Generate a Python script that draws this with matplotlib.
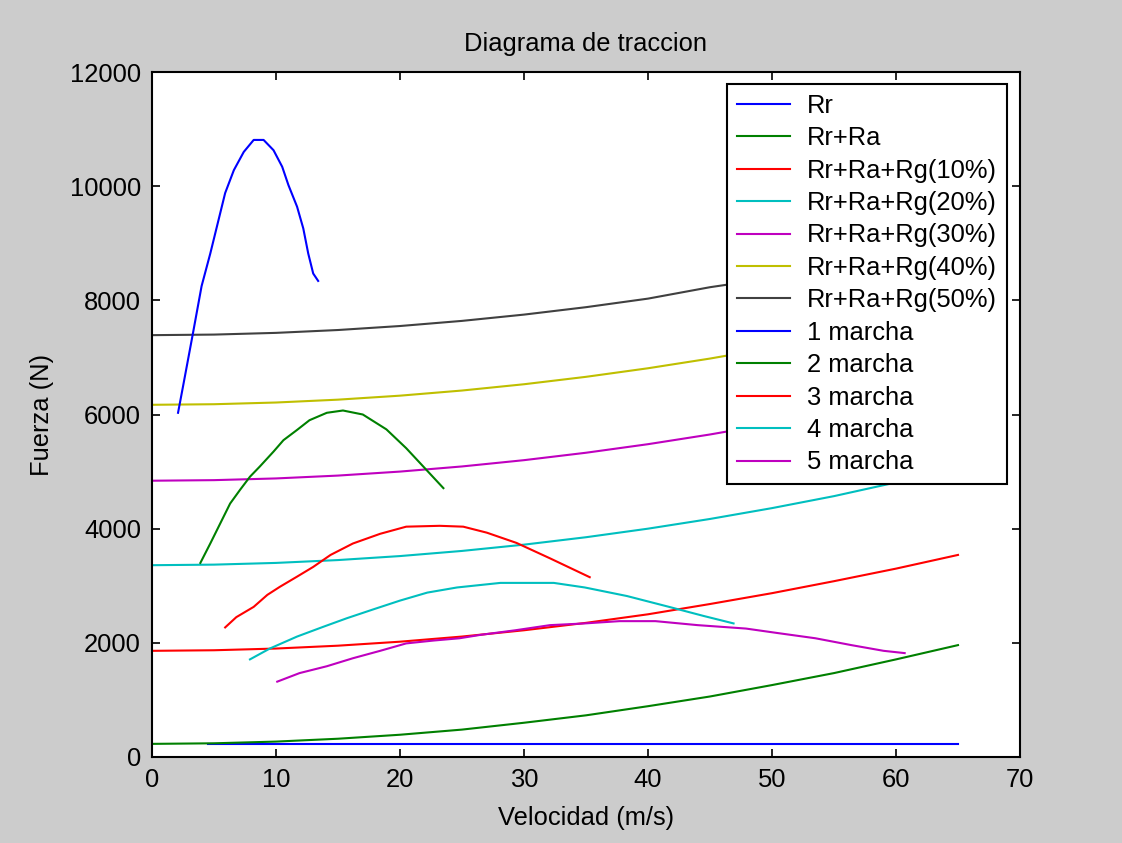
import matplotlib.pyplot as plt

plt.rcParams['font.family'] = ['Liberation Sans', 'DejaVu Sans']

# resistencias (N) frente a velocidad (m/s)
v_res = [0, 5, 10, 15, 20, 25, 30, 35, 40, 45, 50, 55, 60, 65]
rr_v = [4.5, 65]
rr_f = [230, 230]
rr_ra = [230, 240, 270, 320, 390, 480, 600, 730, 890, 1060, 1260, 1470, 1710, 1960]
rg10 = [1860, 1870, 1900, 1950, 2020, 2110, 2220, 2350, 2500, 2680, 2870, 3080, 3300, 3540]
rg20 = [3360, 3370, 3400, 3450, 3520, 3610, 3720, 3850, 4000, 4170, 4360, 4570, 4810, 5060]
rg30 = [4840, 4850, 4880, 4930, 5000, 5090, 5200, 5330, 5480, 5650, 5840, 6050, 6290, 6540]
rg40 = [6170, 6180, 6210, 6260, 6330, 6420, 6530, 6660, 6810, 6980, 7170, 7380, 7620, 7870]
rg50 = [7390, 7400, 7430, 7480, 7550, 7640, 7750, 7880, 8030, 8230, 8390, 8600, 8840, 9090]

# fuerza de traccion en cada marcha
v1 = [2.1, 2.5, 3.3, 4.0, 4.7, 5.3, 5.9, 6.6, 7.4, 8.2, 9.0, 9.8, 10.5, 11.0, 11.7, 12.2, 12.6, 13.0, 13.4]
f1 = [6030, 6490, 7420, 8250, 8820, 9350, 9880, 10280, 10600, 10810, 10810, 10630, 10340, 10020, 9640, 9260, 8820, 8470, 8340]
v2 = [3.9, 4.7, 5.5, 6.3, 7.1, 7.9, 8.7, 9.8, 10.6, 11.7, 12.7, 14.1, 15.4, 17.0, 18.9, 20.5, 22.0, 23.5]
f2 = [3400, 3740, 4090, 4440, 4680, 4910, 5090, 5350, 5550, 5730, 5900, 6030, 6070, 6000, 5740, 5410, 5060, 4710]
v3 = [5.9, 6.8, 8.2, 9.3, 10.3, 11.7, 13.0, 14.4, 16.2, 18.4, 20.5, 23.2, 25.1, 27.0, 29.4, 32.1, 35.3]
f3 = [2270, 2450, 2630, 2840, 2980, 3160, 3330, 3540, 3740, 3910, 4035, 4050, 4035, 3930, 3750, 3480, 3150]
v4 = [7.9, 9.5, 11.7, 13.8, 15.7, 17.9, 20.0, 22.2, 24.6, 28.1, 32.4, 34.9, 38.3, 41.7, 44.5, 46.9]
f4 = [1710, 1900, 2110, 2280, 2430, 2590, 2740, 2880, 2970, 3050, 3050, 2970, 2820, 2630, 2470, 2340]
v5 = [10.1, 11.9, 14.1, 16.2, 18.4, 20.5, 22.7, 24.8, 26.5, 29.3, 32.1, 34.9, 37.7, 40.6, 44.0, 47.9, 50.5, 53.5, 56.4, 59.0, 60.7]
f5 = [1320, 1470, 1590, 1730, 1860, 1990, 2040, 2080, 2140, 2220, 2310, 2340, 2380, 2380, 2310, 2250, 2170, 2080, 1960, 1860, 1820]

labels = ['Rr', 'Rr+Ra', 'Rr+Ra+Rg(10%)', 'Rr+Ra+Rg(20%)', 'Rr+Ra+Rg(30%)',
          'Rr+Ra+Rg(40%)', 'Rr+Ra+Rg(50%)', '1 marcha', '2 marcha',
          '3 marcha', '4 marcha', '5 marcha']

# orden de colores clasico de matlab
colors = ['#0000ff', '#008000', '#ff0000', '#00bfbf', '#bf00bf', '#bfbf00', '#404040']

series = [(rr_v, rr_f), (v_res, rr_ra), (v_res, rg10), (v_res, rg20), (v_res, rg30),
          (v_res, rg40), (v_res, rg50), (v1, f1), (v2, f2), (v3, f3), (v4, f4), (v5, f5)]

fs = 18.4

fig = plt.figure(figsize=(11.22, 8.43), dpi=100, facecolor='#cccccc')
ax = fig.add_axes([152 / 1122, 86 / 843, 868 / 1122, 685 / 843])

for i, (x, y) in enumerate(series):
    ax.plot(x, y, color=colors[i % len(colors)], lw=1.5, label=labels[i])

ax.set_xlim(0, 70)
ax.set_ylim(0, 12000)
ax.set_xticks(range(0, 71, 10))
ax.set_yticks(range(0, 12001, 2000))
ax.tick_params(direction='in', length=6, width=1.2, labelsize=fs, pad=8,
               top=True, right=True, colors='black')
for s in ax.spines.values():
    s.set_linewidth(1.5)

ax.set_title('Diagrama de traccion', fontsize=fs, pad=15)
ax.set_xlabel('Velocidad (m/s)', fontsize=fs, labelpad=10)
ax.set_ylabel('Fuerza (N)', fontsize=fs, labelpad=11)

leg = ax.legend(loc='upper right', bbox_to_anchor=(855 / 868, 673 / 685), borderaxespad=0,
                fontsize=fs, handlelength=2.1, handletextpad=0.66, labelspacing=0.33,
                fancybox=False, framealpha=1, edgecolor='black', borderpad=0.38)
leg.get_frame().set_linewidth(1.5)

fig.savefig('out.png', dpi=100, facecolor=fig.get_facecolor())
